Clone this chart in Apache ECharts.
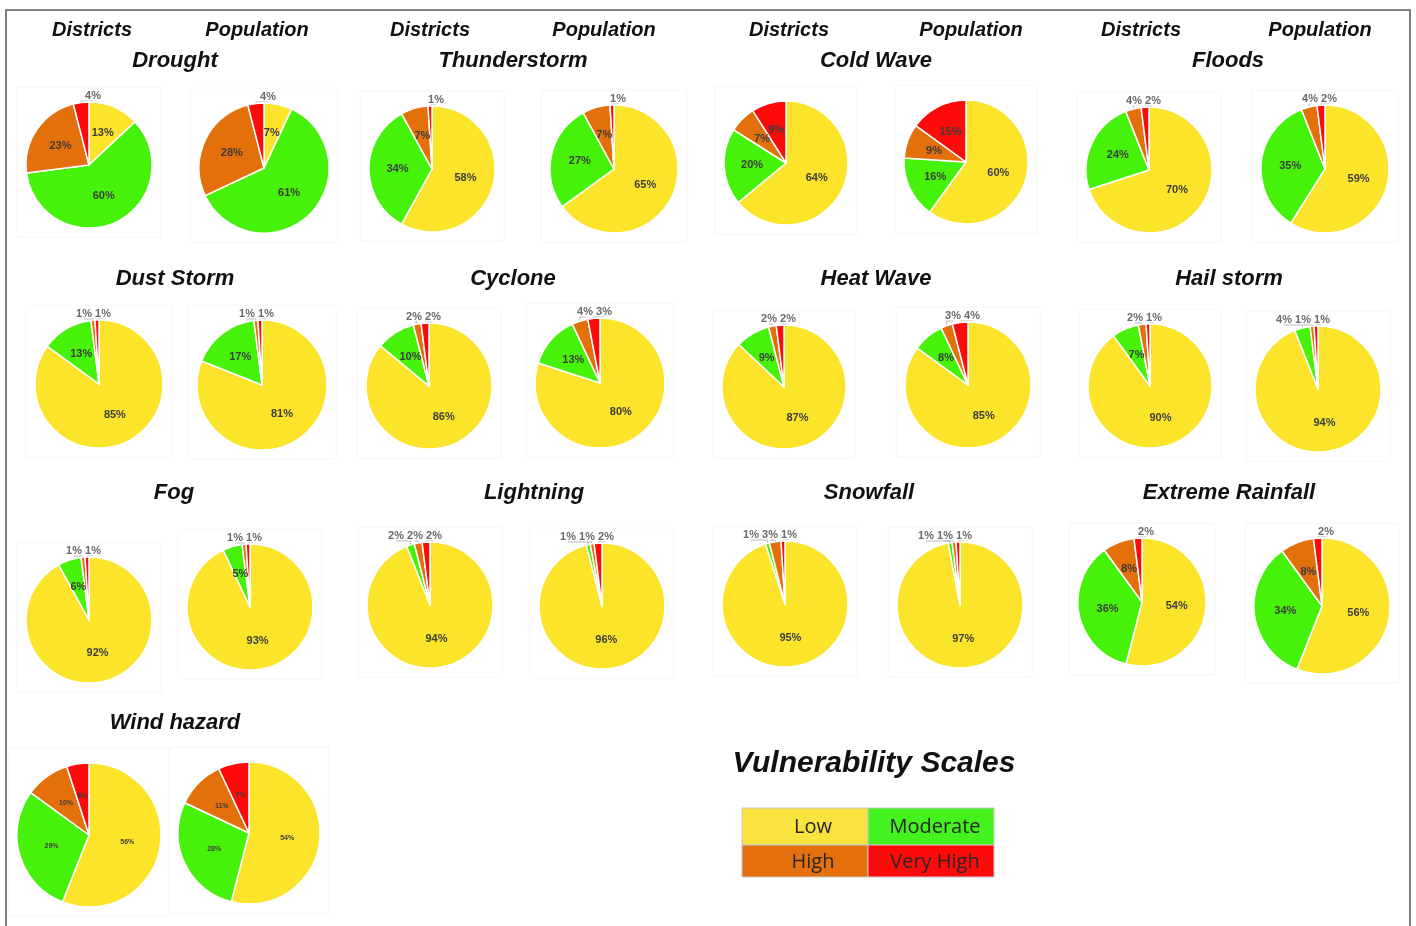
<!DOCTYPE html>
<html>
<head>
<meta charset="utf-8">
<title>Vulnerability Scales</title>
<script src="https://cdn.jsdelivr.net/npm/echarts@6/dist/echarts.min.js"></script>
<style>
  html, body { margin: 0; padding: 0; background: #fff; }
  #chart { width: 1416px; height: 926px; }
</style>
</head>
<body>
<div id="chart"></div>
<script>
// Vulnerability levels, in the order the slices run clockwise from 12 o'clock
const levels = ['Low', 'Moderate', 'High', 'Very High'];

// Hazards, in reading order
const hazards = [
  'Drought', 'Thunderstorm', 'Cold Wave', 'Floods',
  'Dust Storm', 'Cyclone', 'Heat Wave', 'Hail storm',
  'Fog', 'Lightning', 'Snowfall', 'Extreme Rainfall',
  'Wind hazard'
];

// Share of districts in each vulnerability level (%), one row per hazard
const districtShares = [
  [13, 60, 23, 4],
  [58, 34, 7, 1],
  [64, 20, 7, 9],
  [70, 24, 4, 2],
  [85, 13, 1, 1],
  [86, 10, 2, 2],
  [87, 9, 2, 2],
  [90, 7, 2, 1],
  [92, 6, 1, 1],
  [94, 2, 2, 2],
  [95, 1, 3, 1],
  [54, 36, 8, 2],
  [56, 29, 10, 5]
];

// Share of population in each vulnerability level (%), one row per hazard
const populationShares = [
  [7, 61, 28, 4],
  [65, 27, 7, 1],
  [60, 16, 9, 15],
  [59, 35, 4, 2],
  [81, 17, 1, 1],
  [80, 13, 4, 3],
  [85, 8, 3, 4],
  [94, 4, 1, 1],
  [93, 5, 1, 1],
  [96, 1, 1, 2],
  [97, 1, 1, 1],
  [56, 34, 8, 2],
  [54, 28, 11, 7]
];

// Column headings over the top row of pie pairs
const columnHeadings = ['Districts', 'Population'];
const legendTitle = 'Vulnerability Scales';

// ---- styling & layout (not data) ----
const levelColors = ['#FCE42B', '#47F20A', '#E4700C', '#FF0A0A'];
const legendColors = ['#F8E33F', '#44F21E', '#E6700E', '#FF0A0A'];

// per hazard: [title x, title y, districts cx, cy, r, population cx, cy, r]
const layout = [
  [175, 61, 89, 165, 63, 264, 168, 65],
  [513, 61, 432, 169, 63, 614, 169, 64],
  [876, 61, 786, 163, 62, 966, 162, 62],
  [1228, 61, 1149, 170, 63, 1325, 169, 64],
  [175, 279, 99, 384, 64, 262, 385, 65],
  [513, 279, 429, 386, 63, 600, 383, 65],
  [876, 279, 784, 387, 62, 968, 385, 63],
  [1229, 279, 1150, 386, 62, 1318, 389, 63],
  [174, 493, 89, 620, 63, 250, 607, 63],
  [534, 493, 430, 605, 63, 602, 606, 63],
  [869, 493, 785, 604, 63, 960, 605, 63],
  [1229, 493, 1142, 602, 64, 1322, 606, 68],
  [175, 723, 89, 835, 72, 249, 833, 71]
];
const headingX = [[92, 257], [430, 604], [789, 971], [1141, 1320]];

const FONT = '"Liberation Sans", Arial, sans-serif';

// Small slices get their label set in a row just above the top of the pie
function smallLabelLayout(vals, cx, cy, r) {
  const small = [];
  vals.forEach((v, i) => { if (v < 5) small.push(i); });
  const total = vals.reduce((a, b) => a + b, 0);
  return function (p) {
    const j = small.indexOf(p.dataIndex);
    if (j < 0) return {};
    const k = small.length;
    const x = cx + 4 - (k - 1 - j) * 19;
    const y = cy - r - 1;
    let before = 0;
    for (let i = 0; i < p.dataIndex; i++) before += vals[i];
    const th = (before + vals[p.dataIndex] / 2) / total * 2 * Math.PI;
    const ax = cx + r * Math.sin(th);
    const ay = cy - r * Math.cos(th);
    return {
      x: x, y: y, align: 'center', verticalAlign: 'bottom',
      labelLinePoints: [[ax, ay], [ax, Math.min(ay, y)], [x, y]]
    };
  };
}

function pieSeries(vals, cx, cy, r, small) {
  return {
    type: 'pie',
    center: [cx, cy],
    radius: r,
    startAngle: 90,
    clockwise: true,
    avoidLabelOverlap: false,
    animation: false,
    silent: true,
    itemStyle: { borderColor: '#ffffff', borderWidth: 1.5 },
    label: {
      formatter: '{c}%',
      fontFamily: FONT,
      fontWeight: 'bold',
      fontSize: small ? 7 : 11,
      color: '#3d3d3d'
    },
    labelLine: { lineStyle: { color: '#a8a8a8', width: 0.8 } },
    labelLayout: smallLabelLayout(vals, cx, cy, r),
    data: vals.map((v, i) => ({
      name: levels[i],
      value: v,
      itemStyle: { color: levelColors[i] },
      label: v >= 5 ? { position: 'inside' } : { position: 'outside', color: '#6a6a6a' },
      labelLine: { show: v < 5, length: 4, length2: 0 }
    }))
  };
}

const series = [];
const graphics = [];

// outer frame
graphics.push({
  type: 'rect', z: 0,
  shape: { x: 6, y: 10, width: 1404, height: 940 },
  style: { fill: null, stroke: '#5e5e5e', lineWidth: 1.6 }
});

hazards.forEach((name, h) => {
  const L = layout[h];
  const smallText = h === 12;
  series.push(pieSeries(districtShares[h], L[2], L[3], L[4], smallText));
  series.push(pieSeries(populationShares[h], L[5], L[6], L[7], smallText));
  // faint plot-area boxes behind each pie
  [[L[2], L[3], L[4]], [L[5], L[6], L[7]]].forEach(([cx, cy, r]) => {
    graphics.push({
      type: 'rect', z: 0,
      shape: { x: cx - r - 9, y: cy - r - 15, width: 2 * r + 18, height: 2 * r + 24 },
      style: { fill: null, stroke: '#f6f6f6', lineWidth: 1 }
    });
  });
  graphics.push({
    type: 'text', z: 10, x: L[0], y: L[1],
    style: {
      text: name, fontFamily: FONT, fontStyle: 'italic', fontWeight: 'bold',
      fontSize: 22, fill: '#111', align: 'center', verticalAlign: 'middle'
    }
  });
});

headingX.forEach(pair => {
  pair.forEach((x, i) => {
    graphics.push({
      type: 'text', z: 10, x: x, y: 30,
      style: {
        text: columnHeadings[i], fontFamily: FONT, fontStyle: 'italic', fontWeight: 'bold',
        fontSize: 20, fill: '#111', align: 'center', verticalAlign: 'middle'
      }
    });
  });
});

// legend block
graphics.push({
  type: 'text', z: 10, x: 874, y: 764,
  style: {
    text: legendTitle, fontFamily: FONT, fontStyle: 'italic', fontWeight: 'bold',
    fontSize: 30, fill: '#111', align: 'center', verticalAlign: 'middle'
  }
});
const cellX = [742, 868];
const cellY = [808, 845];
const cellH = [37, 32];
levels.forEach((lv, i) => {
  const col = i % 2, row = Math.floor(i / 2);
  graphics.push({
    type: 'rect', z: 5,
    shape: { x: cellX[col], y: cellY[row], width: 126, height: cellH[row] },
    style: { fill: legendColors[i], stroke: '#c8c8c8', lineWidth: 1 }
  });
  graphics.push({
    type: 'text', z: 10,
    x: cellX[col] + 63 + (col === 0 ? 8 : 4), y: cellY[row] + cellH[row] / 2 + 1,
    style: {
      text: lv, fontFamily: '"Open Sans", sans-serif', fontSize: 20,
      fill: '#262626', align: 'center', verticalAlign: 'middle'
    }
  });
});

const chart = echarts.init(document.getElementById('chart'), null, { renderer: 'canvas' });
chart.setOption({
  backgroundColor: '#ffffff',
  animation: false,
  series: series,
  graphic: { elements: graphics }
});
</script>
</body>
</html>
